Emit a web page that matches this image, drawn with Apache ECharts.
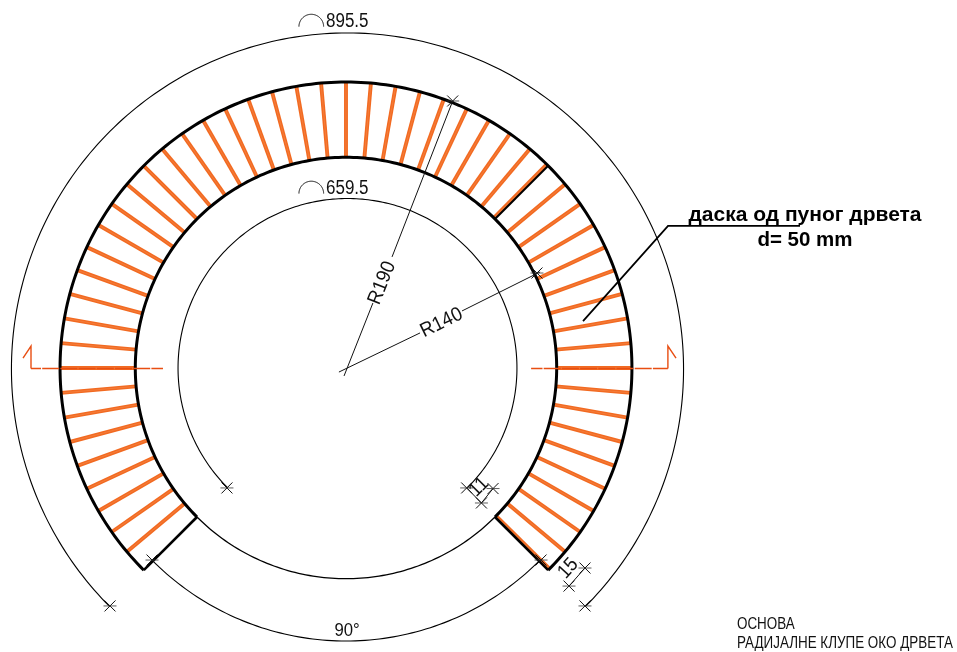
<!DOCTYPE html>
<html><head><meta charset="utf-8">
<style>html,body{margin:0;padding:0;background:#fff}#c{width:957px;height:652px}</style>
<script src="https://cdn.jsdelivr.net/npm/echarts@6/dist/echarts.min.js"></script>
</head><body><div id="c"></div>
<script>
// Drawing units are centimetres, origin at the centre of the tree.
var plankAngles = [-44.6,-40,-35,-30,-25,-20,-15,-10,-5,0,5,10,15,20,25,30,35,40,45.4,50,55,60,65,70,75,80,85,90,95,100,105,110,115,120,125,130,135,140,145,150,155,160,165,170,175,180,185,190,195,200,205,210,215,220];
var benchRadii = [140,190];
var endWallAngles = [-45,45,225];
// cx, cy, radius, from, to, stroke
var arcs = [
  [1,-0.7,223.3,-45,225,1.1],
  [1,0,112.6,-45,225,1.1],
  [0,0,181.4,225,315,1.1],
  [0,0,140,225,315,1.3],
  [-23.06,226.8,8.2,0,180,1],
  [-23.06,115.9,8.2,0,180,1],
  [0,0,190,-45,225,3],
  [0,0,140,-45,225,3]
];
var dimLines = [
  [[-1.3,-5.3],[17.9,43.2]],
  [[30.6,73.8],[70.9,177.4]],
  [[-4.7,-2.7],[49.2,23.3]],
  [[77.1,37.9],[129,63.8]],
  [[80.2,-79.7],[90,-89.7],[97.7,-80.1]],
  [[158.8,-132.9],[148.2,-144.9]]
];
var leader = [[157.5,31.2],[214,94.4],[301.7,94.4]];
var ticks = [[-156.8,-158.1],[158.8,-158.1],[-79.1,-79.7],[80.2,-79.7],[97.7,-80.1],[90,-89.7],[158.8,-132.9],[148.2,-144.9],[-128.9,-127.6],[129.6,-127.6],[70.9,177.4],[126.9,63.1]];
// polyline, dash offset
var sectionMarks = [
  [[[-209.3,-0.3],[-209.3,14.6],[-214.6,6.6]],null],
  [[[-209.3,-0.3],[-121.6,-0.3]],7],
  [[[213.9,-0.3],[213.9,14.6],[219.3,6.6]],null],
  [[[213.9,-0.3],[123,-0.3]],2]
];
// text, x, y, size, rotation, align, bold, horizontal squeeze
var labels = [
  ['895.5',-13.3,230,20,0,'left',false,0.85],
  ['659.5',-13.3,119,20,0,'left',false,0.85],
  ['R190',24,56.5,20,68,'center',false,0.93],
  ['R140',63.5,30,20,26,'center',false,0.93],
  ['11',88.4,-79.1,20,45,'center',false,0.9],
  ['15',147.7,-133.2,20,48,'center',false,0.9],
  ['90°',0.7,-174.6,19,0,'center',false,0.88],
  ['даска од пуног дрвета',305,101.7,21,0,'center',true,1],
  ['d= 50 mm',305,85,20.5,0,'center',true,1],
  ['ОСНОВА',259.8,-170.1,17,0,'left',false,0.79],
  ['РАДИЈАЛНЕ КЛУПЕ ОКО ДРВЕТА',259.8,-183.2,17,0,'left',false,0.79]
];

var BLACK='#000', INK='#111', ORANGE='#F26A21', RED='#E84E12';
function rad(d){return d*Math.PI/180;}
function polar(cx,cy,r,a){return [cx+r*Math.cos(rad(a)),cy+r*Math.sin(rad(a))];}
function line(pts,stroke,width,extra){
  var st={stroke:stroke,fill:null,lineWidth:width,lineJoin:'miter'};
  if(extra){for(var k in extra){st[k]=extra[k];}}
  return {type:'polyline',shape:{points:pts},style:st,silent:true};
}
function idx(a){return a.map(function(_,i){return [i];});}
function custom(name,arr,fn){
  return {name:name,type:'custom',coordinateSystem:'cartesian2d',clip:false,silent:true,animation:false,
    data:idx(arr),encode:{x:0,y:0},renderItem:function(p,api){return fn(arr[p.dataIndex],api);}};
}
var series = [
  custom('planks',plankAngles,function(a,api){
    var A=api.coord(polar(0,0,benchRadii[0],a)),B=api.coord(polar(0,0,benchRadii[1],a));
    return {type:'group',children:[line([A,B],ORANGE,3.9),line([A,B],'#F79A63',0.4)]};
  }),
  custom('endWalls',endWallAngles,function(a,api){
    return line([api.coord(polar(0,0,benchRadii[0],a)),api.coord(polar(0,0,benchRadii[1],a))],BLACK,a===45?2:2.6);
  }),
  custom('arcs',arcs,function(c,api){
    var pts=[];
    for(var t=c[3];t<=c[4]+0.01;t+=1){pts.push(api.coord(polar(c[0],c[1],c[2],t)));}
    return line(pts,BLACK,c[5]);
  }),
  custom('dimLines',dimLines,function(l,api){return line(l.map(function(p){return api.coord(p);}),INK,1);}),
  custom('leader',[leader],function(l,api){return line(l.map(function(p){return api.coord(p);}),BLACK,1.8);}),
  custom('ticks',ticks,function(t,api){
    var c=api.coord(t),d=5.5,h=6.5;
    return {type:'group',children:[
      line([[c[0]-d,c[1]-d],[c[0]+d,c[1]+d]],INK,1),
      line([[c[0]-d,c[1]+d],[c[0]+d,c[1]-d]],INK,1),
      line([[c[0]-h,c[1]],[c[0]+h,c[1]]],'#333',0.8)
    ]};
  }),
  custom('section',sectionMarks,function(m,api){
    var pts=m[0].map(function(p){return api.coord(p);});
    return line(pts,RED,1.4,m[1]===null?null:{lineDash:[17,1.2],lineDashOffset:m[1]});
  }),
  custom('labels',labels,function(l,api){
    var c=api.coord([l[1],l[2]]);
    return {type:'text',x:c[0],y:c[1],rotation:rad(l[4]),scaleX:l[7],silent:true,style:{
      text:l[0],fill:l[6]?BLACK:INK,align:l[5],verticalAlign:'middle',
      font:(l[6]?'bold ':'')+l[3]+'px "Liberation Sans"'
    }};
  })
];
var chart=echarts.init(document.getElementById('c'));
chart.setOption({
  animation:false,
  backgroundColor:'#fff',
  tooltip:{show:false},
  grid:{left:0,right:0,top:0,bottom:0},
  xAxis:{type:'value',min:-229.9,max:406,show:false},
  yAxis:{type:'value',min:-188.7,max:244.5,show:false},
  series:series
});
</script></body></html>
